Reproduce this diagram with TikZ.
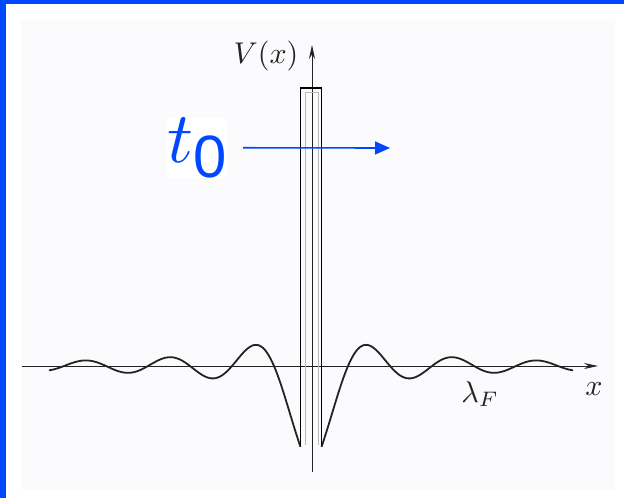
\documentclass[tikz,border=0pt]{standalone}
\usepackage{fontspec}
\newfontfamily\arialfont{Liberation Sans}
\usetikzlibrary{arrows.meta, positioning}
\definecolor{azul}{RGB}{0,72,255}
\definecolor{fundo}{RGB}{251,250,253}
\definecolor{tinta}{RGB}{35,35,35}

\begin{document}
\begin{tikzpicture}[x=1pt, y=-1pt, >=latex,
    eixo/.style={draw=tinta, line width=0.7pt, -{Stealth[length=14pt, width=6pt]}},
    curva/.style={draw=tinta, line width=1.8pt, line join=round},
    barreira/.style={draw=black, line width=1.3pt},
    rotulo/.style={text=tinta, scale=3, inner sep=0pt},
    setaazul/.style={draw=azul, line width=1.6pt, -{Triangle[length=15pt, width=13pt]}}]

                % Moldura e fundo
                \useasboundingbox (0,0) rectangle (624,498);
                \fill[white] (0,0) rectangle (624,498);
                \fill[azul] (0,0) rectangle (624,4);
                \fill[azul] (0,0) rectangle (6,498);
                \fill[fundo] (21,20) rectangle (615,490);

                % Eixos V(x) e x
                \draw[eixo] (22,366) -- (598,366);
                \draw[eixo] (312,472) -- (312,45);

                % Oscilacoes de Friedel (dois lados da barreira)
                \draw[curva] plot[domain=49:300.5, samples=160, smooth]
                    (\x, {366 + 1280/(315-\x)*cos((295-\x)/84*360)});
                \draw[curva] plot[domain=321.5:573, samples=160, smooth]
                    (\x, {366 + 1280/(\x-307)*cos((\x-327)/84*360)});

                % Barreira
                \draw[gray!55, line width=0.6pt] (305,445) -- (305,92) -- (318,92) -- (318,445);
                \draw[barreira] (300.5,445) -- (300.5,88) -- (321.5,88) -- (321.5,445);

                % Rotulos
                \node[rotulo] (vx) at (266,56) {$V(x)$};
                \node[rotulo] (xlab) at (594,389) {$x$};
                \node[rotulo] (lambdaF) at (480,394) {$\lambda_F$};

                % Tempo t0 e seta
                \node[fill=white, inner sep=0pt, scale=7.2, anchor=base west, text=azul] (tzero) at (166,162)
                    {$t$\raisebox{-2.1pt}{\scalebox{0.83}{\arialfont 0}}};
                \coordinate (alvo) at (390,148);
                \draw[setaazul, shorten <=15pt] (tzero) -- (alvo);

\end{tikzpicture}
\end{document}
